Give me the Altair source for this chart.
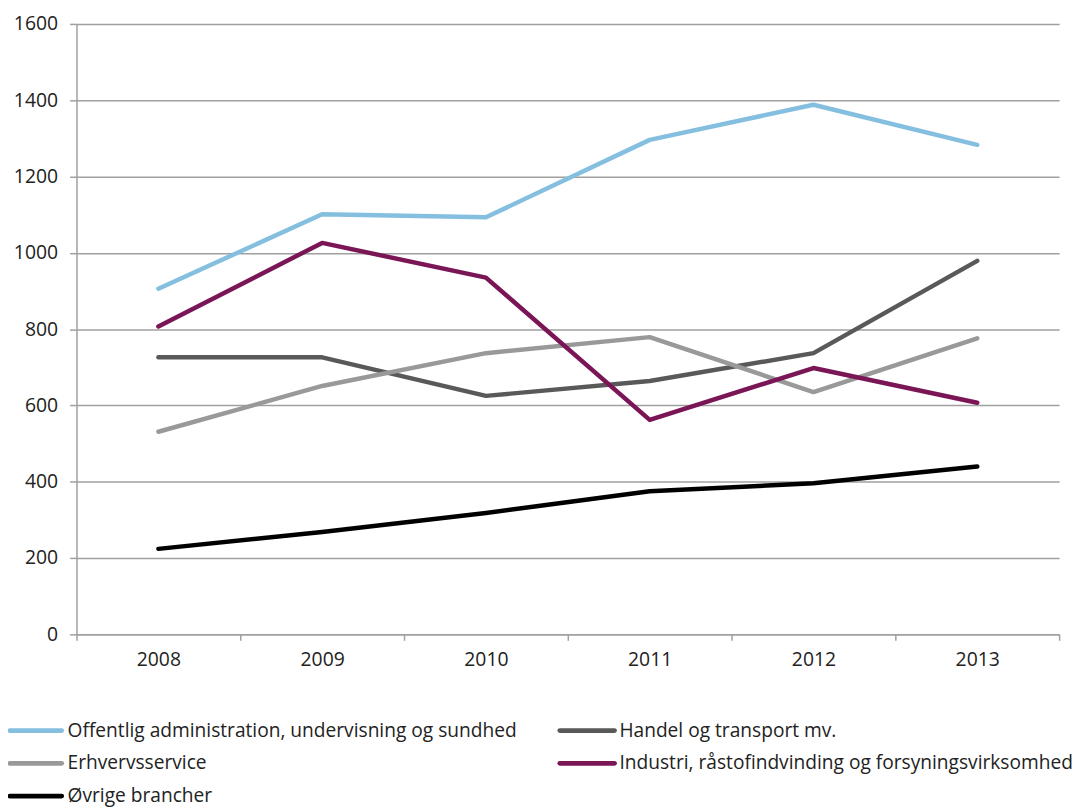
import altair as alt
import pandas as pd

years = ["2008", "2009", "2010", "2011", "2012", "2013"]
series_names = [
    "Offentlig administration, undervisning og sundhed",
    "Handel og transport mv.",
    "Erhvervsservice",
    "Industri, råstofindvinding og forsyningsvirksomhed",
    "Øvrige brancher",
]
offentlig = [906, 1101, 1093, 1296, 1388, 1283]
handel = [726, 726, 625, 664, 737, 979]
erhverv = [531, 651, 737, 779, 635, 776]
industri = [807, 1026, 935, 562, 698, 607]
ovrige = [224, 268, 318, 375, 396, 440]
colors = ["#85BFE0", "#595959", "#999999", "#7A1656", "#000000"]

rows = []
for name, vals in zip(series_names, [offentlig, handel, erhverv, industri, ovrige]):
    for y, v in zip(years, vals):
        rows.append({"year": y, "value": v, "series": name})
df = pd.DataFrame(rows)

leg_df = pd.DataFrame({"series": series_names, "idx": list(range(len(series_names)))})

FONT = "Open Sans"
FS = 19.5
color_scale = alt.Scale(domain=series_names, range=colors)

lines = alt.Chart(df).mark_line(strokeWidth=4.5, strokeCap="round", strokeJoin="round").encode(
    x=alt.X("year:O", bandPosition=0.5,
            scale=alt.Scale(type="band", paddingInner=0, paddingOuter=0),
            axis=alt.Axis(title=None, labelAngle=0, tickBand="extent", domainColor="#A0A0A0",
                          tickColor="#A0A0A0", domainWidth=1.5, tickWidth=1.5, tickSize=6,
                          labelFontSize=FS, labelColor="#222222", labelPadding=10, labelFont=FONT,
                          grid=False)),
    y=alt.Y("value:Q", scale=alt.Scale(domain=[0, 1600], nice=False),
            axis=alt.Axis(title=None, values=list(range(0, 1601, 200)), format="d",
                          gridColor="#A0A0A0", gridWidth=1.5, domainColor="#A0A0A0", domainWidth=1.5,
                          tickColor="#A0A0A0", tickWidth=1.5, tickSize=7,
                          labelFontSize=FS, labelColor="#222222", labelPadding=12, labelFont=FONT)),
    color=alt.Color("series:N", scale=color_scale, legend=None),
    order=alt.Order("year:O"),
)

# legend laid out in two columns, rows derived from entry order
leg_base = alt.Chart(leg_df).transform_calculate(
    col="datum.idx % 2",
    row="floor(datum.idx / 2)",
).transform_calculate(
    lx="datum.col == 0 ? -67 : 487",
    lx2="datum.col == 0 ? -15 : 542",
    tx="datum.col == 0 ? -9 : 547",
    ly="712 + datum.row * 33",
)

leg_rules = leg_base.mark_rule(strokeWidth=5, strokeCap="round").encode(
    x=alt.X("lx:Q", scale=None, axis=None),
    x2="lx2:Q",
    y=alt.Y("ly:Q", scale=None, axis=None),
    color=alt.Color("series:N", scale=color_scale, legend=None),
)
leg_text = leg_base.mark_text(align="left", baseline="middle", fontSize=19.3, font=FONT,
                              color="#222222").encode(
    x=alt.X("tx:Q", scale=None, axis=None),
    y=alt.Y("ly:Q", scale=None, axis=None),
    text="series:N",
)

chart = alt.layer(lines, leg_rules, leg_text).resolve_scale(
    x="independent", y="independent"
).properties(
    width=990, height=615,
    autosize=alt.AutoSizeParams(type="none"),
    padding={"left": 69, "top": 13, "right": 17, "bottom": 180},
).configure_view(stroke=None)

chart.save("out.html", embed_options={"renderer": "svg", "actions": False})
